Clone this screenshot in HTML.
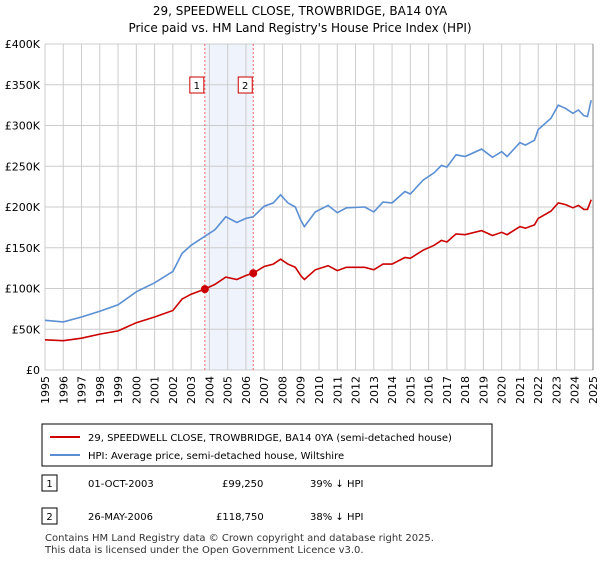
<!DOCTYPE html>
<html><head><meta charset="utf-8"><style>
body{margin:0;background:#fff;font-family:"DejaVu Sans","Liberation Sans",sans-serif;}
svg text{font-family:"DejaVu Sans","Liberation Sans",sans-serif;}
</style></head><body>
<svg id="c" width="600" height="560" viewBox="0 0 600 560">
<text x="300" y="15" text-anchor="middle" font-size="12">29, SPEEDWELL CLOSE, TROWBRIDGE, BA14 0YA</text>
<text x="300" y="32" text-anchor="middle" font-size="12">Price paid vs. HM Land Registry's House Price Index (HPI)</text>
<g id="plot"></g>
<rect x="42" y="424" width="450" height="42" fill="#fff" stroke="#000" stroke-width="1"/>
<line x1="50" y1="437" x2="80" y2="437" stroke="#cc0000" stroke-width="2"/>
<text x="88" y="441" font-size="10">29, SPEEDWELL CLOSE, TROWBRIDGE, BA14 0YA (semi-detached house)</text>
<line x1="50" y1="455" x2="80" y2="455" stroke="#5b8fd4" stroke-width="2"/>
<text x="88" y="459" font-size="10">HPI: Average price, semi-detached house, Wiltshire</text>
<rect x="42" y="475" width="15" height="16" fill="#fff" stroke="#000"/>
<text x="49.5" y="487" font-size="10" text-anchor="middle">1</text>
<text x="88" y="487" font-size="10">01-OCT-2003</text>
<text x="222" y="487" font-size="10">£99,250</text>
<text x="310" y="487" font-size="10">39% ↓ HPI</text>
<rect x="42" y="508" width="15" height="16" fill="#fff" stroke="#000"/>
<text x="49.5" y="520" font-size="10" text-anchor="middle">2</text>
<text x="88" y="520" font-size="10">26-MAY-2006</text>
<text x="216" y="520" font-size="10">£118,750</text>
<text x="310" y="520" font-size="10">38% ↓ HPI</text>
<text x="45" y="541" font-size="10" fill="#333">Contains HM Land Registry data © Crown copyright and database right 2025.</text>
<text x="45" y="553" font-size="10" fill="#333">This data is licensed under the Open Government Licence v3.0.</text>
</svg>
<script>
const hpiT=[1995,1996,1997,1998,1999,2000,2001,2002,2002.5,2003,2003.75,2004.3,2004.9,2005.5,2006,2006.4,2007,2007.5,2007.9,2008.3,2008.7,2009,2009.2,2009.8,2010.5,2011,2011.5,2012.5,2013,2013.5,2014,2014.7,2015,2015.7,2016.3,2016.7,2017,2017.5,2018,2018.9,2019.5,2020,2020.3,2021,2021.3,2021.8,2022,2022.7,2023.1,2023.5,2023.9,2024.2,2024.5,2024.7,2024.9];
const hpiV=[61,59,65,72,80,96,107,121,143,153,164,172,188,181,186,188,201,205,215,205,200,184,176,194,202,193,199,200,194,206,205,219,216,233,242,251,249,264,262,271,261,268,262,279,276,282,295,309,325,321,315,319,312,311,331];
const redV=[37,36,39,44,48,58,65,73,87,93,99.25,105,114,111,116,118.75,127,130,136,130,126,116,111,123,128,122,126,126,123,130,130,138,137,147,153,159,157,167,166,171,165,169,166,176,174,178,186,195,205,203,199,202,197,197,209];
const sales=[{t:2003.75,v:99.25,n:"1"},{t:2006.4,v:118.75,n:"2"}];
const yTicks=[0,50,100,150,200,250,300,350,400];
const years=[];for(let y=1995;y<=2025;y++)years.push(y);
const L=45,R=593,T=44,B=370;
const X=t=>L+(t-1995)/30*(R-L);
const Y=v=>B-v/400*(B-T);
const ns="http://www.w3.org/2000/svg";
const g=document.getElementById('plot');
function mk(tag,a,p){const e=document.createElementNS(ns,tag);for(const k in a)e.setAttribute(k,a[k]);(p||g).appendChild(e);return e;}
const sh=mk('rect',{x:X(sales[0].t),y:T,width:X(sales[1].t)-X(sales[0].t),height:B-T,fill:'#eef3fc'});


years.forEach(y=>{const l=mk('line',{x1:X(y),x2:X(y),y1:T,y2:B,stroke:'#ccc','stroke-width':1});


const tx=mk('text',{x:0,y:0,'font-size':11,'text-anchor':'end',transform:`translate(${X(y)+4},${B+6}) rotate(-90)`});tx.textContent=y;

});
yTicks.forEach(v=>{const l=mk('line',{x1:L,x2:R,y1:Y(v),y2:Y(v),stroke:'#ccc','stroke-width':1});


const tx=mk('text',{x:L-5,y:Y(v)+4,'font-size':11,'text-anchor':'end'});tx.textContent=v===0?'£0':'£'+v+'K';

});
sales.forEach(s=>{const l=mk('line',{x1:X(s.t),x2:X(s.t),y1:T,y2:B,stroke:'#e66','stroke-width':1,'stroke-dasharray':'2,2'});


const r=mk('rect',{x:X(s.t)-15,y:77,width:14,height:16,fill:'#fff',stroke:'#c00'});


const tx=mk('text',{x:X(s.t)-8,y:89,'font-size':10,'text-anchor':'middle'});tx.textContent=s.n;});
function path(vals,col,name){const d=hpiT.map((t,i)=>(i?'L':'M')+X(t).toFixed(1)+','+Y(vals[i]).toFixed(1)).join('');
const p=mk('path',{d:d,fill:'none',stroke:col,'stroke-width':1.6});

}
path(hpiV,'#5b8fd4','hpi-line');
path(redV,'#cc0000','price-paid-line');
sales.forEach(s=>{const c=mk('circle',{cx:X(s.t),cy:Y(s.v),r:4,fill:'#cc0000'});

});
const ax=mk('line',{x1:R,x2:R,y1:T,y2:B,stroke:'#888'});


</script>
</body></html>
